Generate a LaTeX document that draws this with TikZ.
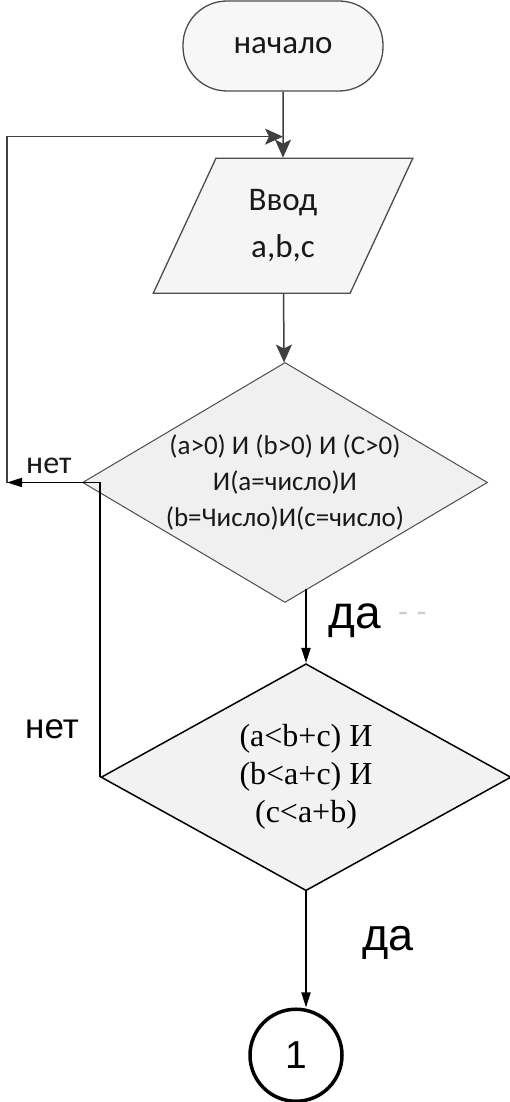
\documentclass[tikz,border=0pt]{standalone}
\usepackage{fontspec}
\setmainfont{Liberation Sans}
\newfontfamily\calibfont{Carlito}
\newfontfamily\arialfont{Liberation Sans}
\newfontfamily\timesfont{Liberation Serif}
\usetikzlibrary{positioning,arrows.meta,shapes.geometric}
\tikzset{
    flowterm/.style={draw=gray!60!black, fill=gray!6, rounded corners=44pt, minimum width=200pt, minimum height=90pt, line width=1.3pt, font=\calibfont\fontsize{33}{38}\selectfont, text=gray!20!black},
    flowio/.style={draw=gray!60!black, fill=gray!8, trapezium, trapezium left angle=66, trapezium right angle=114, trapezium stretches=true, minimum width=260pt, minimum height=135pt, line width=1.3pt, align=center, font=\calibfont\fontsize{33}{47}\selectfont, text=gray!20!black},
    flowcheck/.style={draw=gray!60!black, fill=gray!12, diamond, aspect=1.69, inner sep=0pt, minimum width=405pt, minimum height=240pt, line width=1pt, align=center, font=\calibfont\fontsize{27}{36}\selectfont, text=gray!20!black},
    flowtest/.style={draw=black, fill=gray!10, diamond, aspect=1.8, inner sep=0pt, minimum width=410pt, minimum height=227pt, line width=1.5pt, align=center, font=\timesfont\fontsize{32}{38}\selectfont},
    flowlink/.style={draw=black, circle, line width=3.5pt, minimum size=92pt, inner sep=0pt, font=\arialfont\fontsize{39}{44}\selectfont},
    flowgray/.style={draw=gray!50!black, line width=1.5pt, -{Stealth[length=18pt,width=16pt,inset=4pt]}},
    flowblack/.style={draw=black, line width=1.8pt, -{Triangle[length=15pt,width=9pt]}},
    graylabel/.style={anchor=base west, inner sep=0pt, font=\calibfont\fontsize{32}{36}\selectfont, text=gray!20!black},
    blacklabel/.style={anchor=base west, inner sep=0pt, font=\arialfont\fontsize{#1}{#1}\selectfont}
}

\begin{document}
\begin{tikzpicture}[x=1pt, y=1pt]
    \useasboundingbox (0,0) rectangle (510,-1102);
    \node[flowterm] (start) at (283,-46) {начало};
    \node[flowio, below=66pt of start] (input) {Ввод\\a,b,c};
    \node[flowcheck, below=68pt of input, xshift=2pt] (check) {(a>0) И (b>0) И (C>0)\\И(a=число)И\\(b=Число)И(c=число)};
    \node[flowtest, below=60pt of check, xshift=21pt] (sides) {(a<b+c) И\\(b<a+c) И\\(c<a+b)};
    \node[flowlink, below=116pt of sides, xshift=-10pt] (link) {1};
    \coordinate[below=45pt of start] (merge);
    \coordinate (leftrail) at (7,0);
    % labels
    \node[graylabel] (no1) at (26,-473) {нет};
    \node[blacklabel=46] (yes1) at (328,-628) {да};
    \node[blacklabel=30, text=gray!40] (rest1) at (398,-621) {- -};
    \node[blacklabel=35] (no2) at (25,-738) {нет};
    \node[blacklabel=45] (yes2) at (362,-950) {да};
    % connectors
    \draw[flowgray] (start) -- (input);
    \draw[flowgray] (input) -- (check);
    \draw[flowgray] (check.west) -- (check.west -| leftrail) |- (merge);
    \draw[flowblack] (sides.north |- check.-78) -- (sides.north);
    \draw[flowblack] (sides.west) |- (check.west -| leftrail);
    \draw[flowblack] (sides.south) -- (sides.south |- link.north);
\end{tikzpicture}
\end{document}
